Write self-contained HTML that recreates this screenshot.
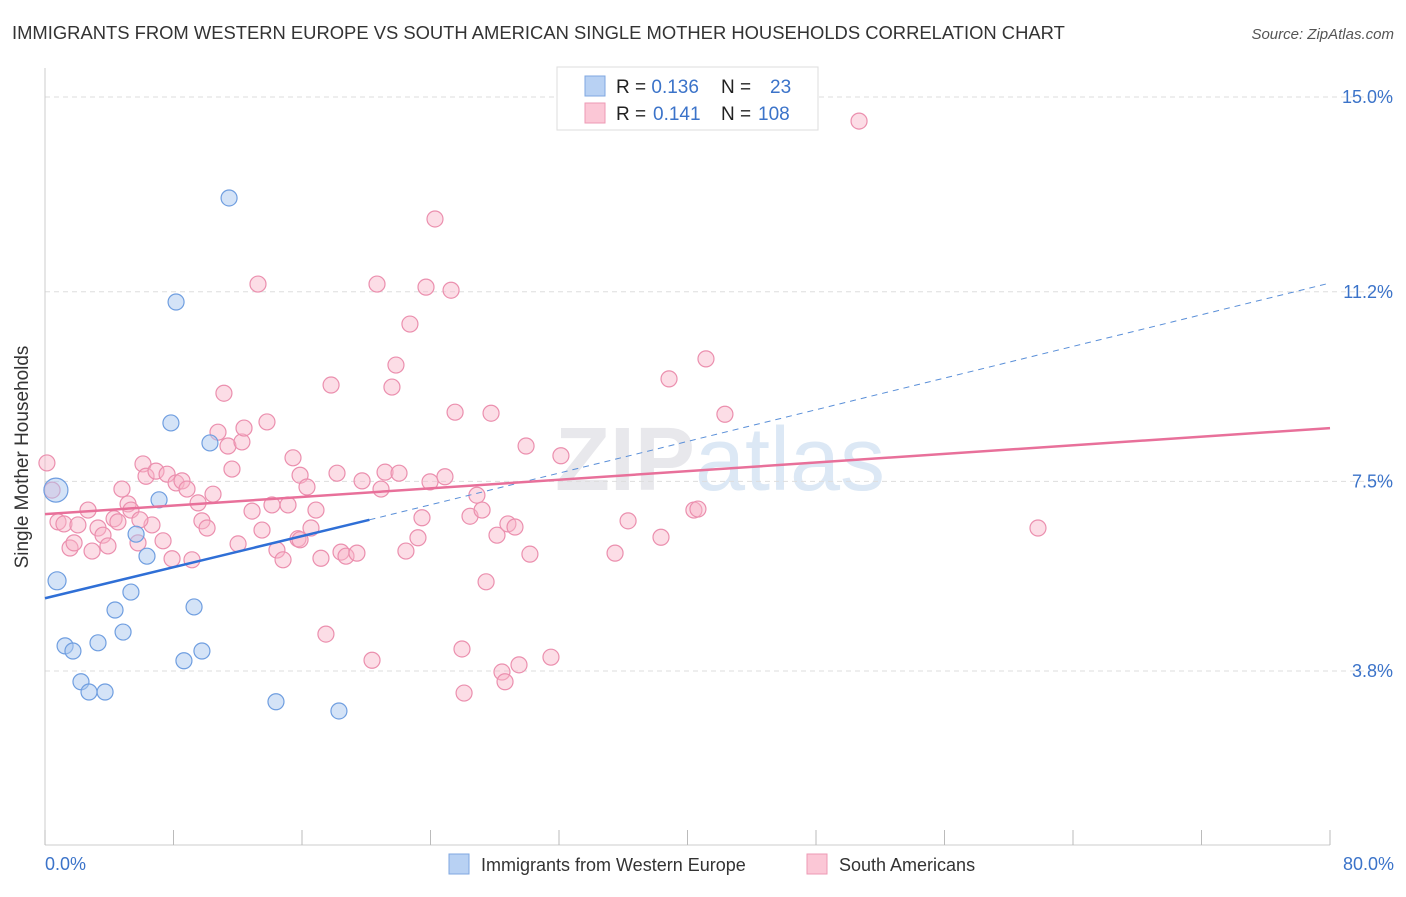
<!DOCTYPE html>
<html><head><meta charset="utf-8"><style>
body{margin:0;background:#fff;font-family:"Liberation Sans",sans-serif;}
svg text{font-family:"Liberation Sans",sans-serif;}
</style></head><body>
<svg width="1406" height="892" xmlns="http://www.w3.org/2000/svg">
<text x="12" y="39" font-size="18.4" fill="#333">IMMIGRANTS FROM WESTERN EUROPE VS SOUTH AMERICAN SINGLE MOTHER HOUSEHOLDS CORRELATION CHART</text>
<text x="1394" y="39" font-size="15" fill="#555" font-style="italic" text-anchor="end">Source: ZipAtlas.com</text>
<text x="720" y="490" font-size="90" fill="#e8e8ec" text-anchor="middle" font-weight="bold">ZIP<tspan fill="#dce8f5" font-weight="normal">atlas</tspan></text>
<g id="grid"></g>
<line x1="45" y1="68" x2="45" y2="845" stroke="#ccc"/>
<line x1="45" y1="845" x2="1330" y2="845" stroke="#ccc"/>
<g id="xticks"></g>
<text x="28" y="457" font-size="19" fill="#333" text-anchor="middle" transform="rotate(-90 28 457)">Single Mother Households</text>
<text x="45" y="870" font-size="18" fill="#3b73c9">0.0%</text>
<text x="1394" y="870" font-size="18" fill="#3b73c9" text-anchor="end">80.0%</text>
<g id="pts"></g>
<g id="lines"></g>
<g>
<rect x="557" y="67" width="261" height="63" fill="#fff" stroke="#ddd"/>
<rect x="585" y="76" width="20" height="20" fill="#b8d1f3" stroke="#7fa7e0"/>
<rect x="585" y="103" width="20" height="20" fill="#fbc7d6" stroke="#ee9ab4"/>
<text x="616" y="93" font-size="19" fill="#222">R = <tspan fill="#3b73c9">0.136</tspan><tspan x="721">N =</tspan><tspan x="770" fill="#3b73c9">23</tspan></text>
<text x="616" y="120" font-size="19" fill="#222">R = <tspan x="653" fill="#3b73c9">0.141</tspan><tspan x="721">N =</tspan><tspan x="758" fill="#3b73c9">108</tspan></text>
</g>
<g>
<rect x="449" y="854" width="20" height="20" fill="#b8d1f3" stroke="#7fa7e0"/>
<text x="481" y="871" font-size="18" fill="#333">Immigrants from Western Europe</text>
<rect x="807" y="854" width="20" height="20" fill="#fbc7d6" stroke="#ee9ab4"/>
<text x="839" y="871" font-size="18" fill="#333">South Americans</text>
</g>
</svg>
<script>
const yTicks=[15.0,11.2,7.5,3.8];
const xTickVals=[0,8,16,24,32,40,48,56,64,72,80];
const bluePx=[[56,490],[57,581],[65,646],[73,651],[81,682],[89,692],[105,692],[98,643],[115,610],[123,632],[131,592],[136,534],[147,556],[159,500],[171,423],[176,302],[184,661],[194,607],[202,651],[210,443],[229,198],[276,702],[339,711]];
const pinkPx=[[47,463],[52,490],[58,522],[64,524],[70,548],[74,543],[78,525],[88,510],[92,551],[98,528],[103,535],[108,546],[114,519],[118,522],[122,489],[128,504],[131,510],[138,543],[143,464],[146,476],[152,525],[156,471],[163,541],[167,474],[172,559],[176,483],[182,481],[187,489],[192,560],[198,503],[202,521],[207,528],[213,494],[218,432],[224,393],[228,446],[232,469],[238,544],[242,442],[244,428],[252,511],[258,284],[262,530],[267,422],[272,505],[277,550],[283,560],[288,505],[293,458],[298,539],[300,475],[307,487],[311,528],[316,510],[321,558],[326,634],[331,385],[337,473],[341,552],[346,556],[357,553],[362,481],[372,660],[377,284],[381,489],[385,472],[392,387],[396,365],[399,473],[406,551],[410,324],[418,538],[422,518],[426,287],[430,482],[435,219],[445,477],[451,290],[455,412],[462,649],[464,693],[470,516],[477,495],[482,510],[486,582],[491,413],[497,535],[502,672],[505,682],[508,524],[515,527],[519,665],[526,446],[530,554],[551,657],[561,456],[615,553],[628,521],[661,537],[669,379],[694,510],[698,509],[706,359],[725,414],[859,121],[1038,528],[140,520],[300,540]];
// convert pixel estimates to data values
const toX=p=>+((p[0]-45)/1285*80).toFixed(2), toY=p=>+(15-(p[1]-97)/51.25).toFixed(2);
const blueX=bluePx.map(toX), blueY=bluePx.map(toY);
const pinkX=pinkPx.map(toX), pinkY=pinkPx.map(toY);
const blueTrend=[[0,5.22],[20.2,6.75],[80,11.37]];
const pinkTrend=[[0,6.86],[80,8.54]];
const X=v=>45+v/80*1285, Y=v=>97+(15-v)*51.25;
const NS="http://www.w3.org/2000/svg";
function mk(t,a,parent){const e=document.createElementNS(NS,t);for(const k in a)e.setAttribute(k,a[k]);document.getElementById(parent).appendChild(e);return e;}
yTicks.forEach(t=>{
 const l=mk('line',{x1:45,x2:1394,y1:Y(t),y2:Y(t),stroke:'#ddd','stroke-dasharray':'5,4'},'grid');
 
 
 const tx=mk('text',{x:1393,y:Y(t)+6,'font-size':18,fill:'#3b73c9','text-anchor':'end'},'grid');tx.textContent=t.toFixed(1)+'%';
 
 
});
xTickVals.forEach(t=>{
 const l=mk('line',{x1:X(t),x2:X(t),y1:830,y2:845,stroke:'#bbb'},'xticks');
 
 
});
pinkX.forEach((x,i)=>{
 const c=mk('circle',{cx:X(x),cy:Y(pinkY[i]),r:8,fill:'rgba(248,180,200,0.45)',stroke:'#eb8fae','stroke-width':1.2},'pts');
 
 
});
blueX.forEach((x,i)=>{
 const c=mk('circle',{cx:X(x),cy:Y(blueY[i]),r:i==0?12:(i==1?9:8),fill:'rgba(170,200,240,0.5)',stroke:'#6f9ee0','stroke-width':1.2},'pts');
 
 
});
let l=mk('line',{x1:X(blueTrend[1][0]),y1:Y(blueTrend[1][1]),x2:X(blueTrend[2][0]),y2:Y(blueTrend[2][1]),stroke:'#5a8fd8','stroke-width':1,'stroke-dasharray':'6,5'},'lines');


l=mk('line',{x1:X(blueTrend[0][0]),y1:Y(blueTrend[0][1]),x2:X(blueTrend[1][0]),y2:Y(blueTrend[1][1]),stroke:'#2f6fd6','stroke-width':2.5},'lines');


l=mk('line',{x1:X(pinkTrend[0][0]),y1:Y(pinkTrend[0][1]),x2:X(pinkTrend[1][0]),y2:Y(pinkTrend[1][1]),stroke:'#e8709a','stroke-width':2.5},'lines');


</script>
</body></html>
